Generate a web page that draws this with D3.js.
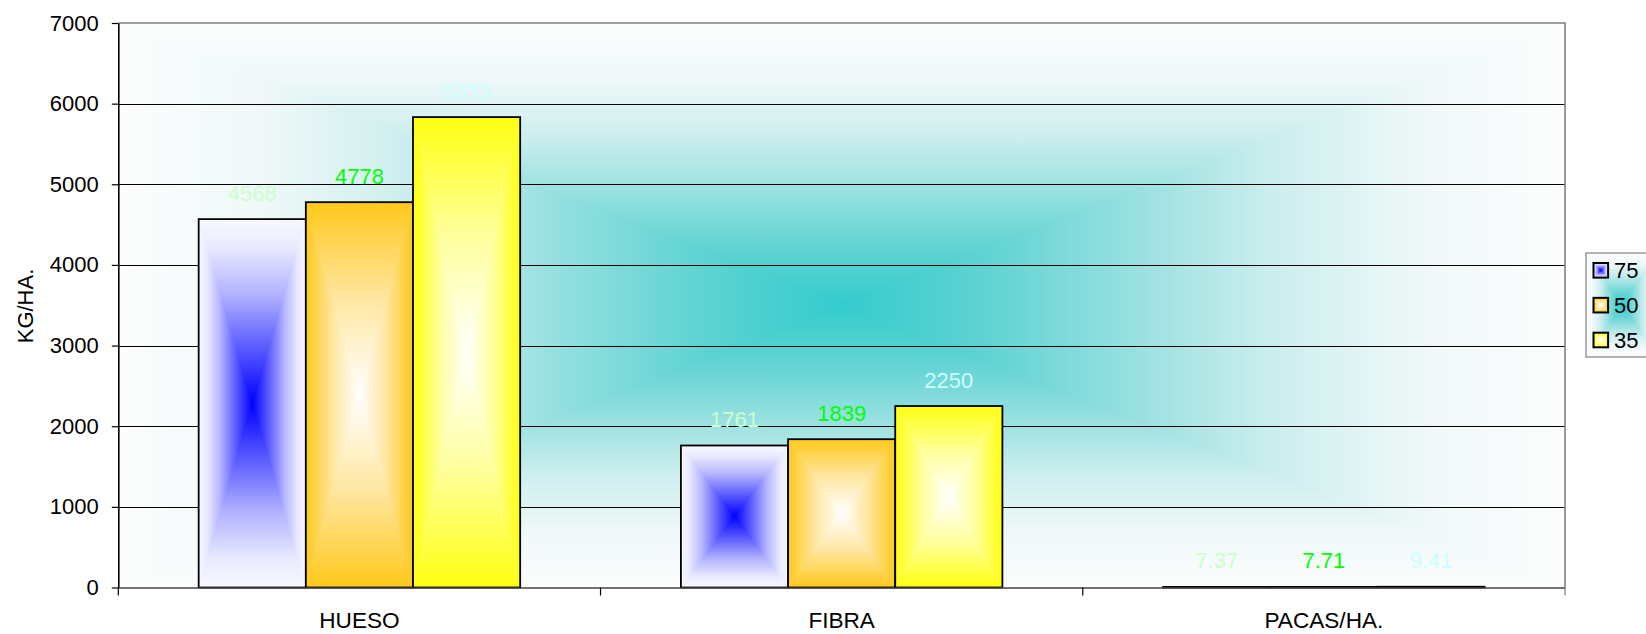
<!DOCTYPE html>
<html><head><meta charset="utf-8">
<script src="https://cdn.jsdelivr.net/npm/d3@7"></script>
<style>html,body{margin:0;padding:0;background:#fff;overflow:hidden}</style>
</head><body>
<svg id="c" width="1646" height="634"></svg>
<script>
// ---- data ----
const categories = ["HUESO", "FIBRA", "PACAS/HA."];
const seriesNames = ["75", "50", "35"];
const values75 = [4568, 1761, 7.37];
const values50 = [4778, 1839, 7.71];
const values35 = [5833, 2250, 9.41];
const yTicks = [0, 1000, 2000, 3000, 4000, 5000, 6000, 7000];
const yTitle = "KG/HA.";

const seriesValues = [values75, values50, values35];
const seriesScheme = ["blue", "orange", "yellow"];
const labelColors = ["#ccffcc", "#00ff00", "#ccffff"];

// ---- layout ----
const M = {left: 118.3, right: 1565, top: 23, bottom: 587.5};
const FONT = '"Liberation Sans", Arial, Helvetica, sans-serif';
const FS = 22;
const FSCAT = 22.6;

const svg = d3.select("#c");
svg.append("rect").attr("width", 1646).attr("height", 634).attr("fill", "#fff");
const defs = svg.append("defs");

const schemes = {
  teal: [[0, "#33cccc"], [0.2, "#60d3d3"], [0.4, "#97e0e0"], [0.6, "#cdeeee"], [0.8, "#eff8f8"], [1, "#fcfdfd"]],
  blue: [[0, "#0000ff"], [0.3, "#5a5aff"], [0.6, "#b4b4ff"], [0.85, "#eaeaff"], [1, "#f8f8ff"]],
  orange: [[0, "#ffffff"], [0.5, "#ffe6a0"], [1, "#ffc81a"]],
  yellow: [[0, "#ffffff"], [0.5, "#ffff9c"], [1, "#ffff10"]]
};

function makeGrads(name, stops) {
  const h = defs.append("linearGradient").attr("id", name + "-h")
    .attr("x1", 0).attr("x2", 1).attr("y1", 0).attr("y2", 0);
  const hs = [];
  stops.forEach(([t, c]) => { hs.push([0.5 - 0.5 * t, c]); if (t > 0) hs.push([0.5 + 0.5 * t, c]); });
  hs.sort((a, b) => a[0] - b[0]);
  hs.forEach(([o, c]) => h.append("stop").attr("offset", o).attr("stop-color", c));
  const rev = stops.slice().reverse();
  const tg = defs.append("linearGradient").attr("id", name + "-t")
    .attr("x1", 0).attr("x2", 0).attr("y1", 0).attr("y2", 1);
  rev.forEach(([t, c]) => tg.append("stop").attr("offset", 1 - t).attr("stop-color", c));
  const bg = defs.append("linearGradient").attr("id", name + "-b")
    .attr("x1", 0).attr("x2", 0).attr("y1", 1).attr("y2", 0);
  rev.forEach(([t, c]) => bg.append("stop").attr("offset", 1 - t).attr("stop-color", c));
}
Object.entries(schemes).forEach(([k, s]) => makeGrads(k, s));

function centerFill(g, x, y, w, h, name) {
  g.append("rect").attr("x", x).attr("y", y).attr("width", w).attr("height", h)
    .attr("fill", `url(#${name}-h)`);
  if (h < 2) return;
  const cx = x + w / 2, cy = y + h / 2;
  g.append("path").attr("d", `M${x},${y}L${x + w},${y}L${cx},${cy}Z`).attr("fill", `url(#${name}-t)`);
  g.append("path").attr("d", `M${x},${y + h}L${x + w},${y + h}L${cx},${cy}Z`).attr("fill", `url(#${name}-b)`);
}

// ---- scales ----
const x = d3.scaleBand().domain(categories).range([M.left, M.right]).paddingInner(0).paddingOuter(0);
const bw = x.bandwidth() / 4.5;
const xs = d3.scaleBand().domain(seriesNames).range([0.75 * bw, 3.75 * bw]).padding(0);
const y = d3.scaleLinear().domain([0, 7000]).range([M.bottom, M.top]);

// ---- plot background ----
const bgG = svg.append("g");
centerFill(bgG, M.left, M.top, M.right - M.left, M.bottom - M.top, "teal");

// gridlines
svg.append("g").selectAll("line").data(yTicks.filter(t => t > 0 && t < 7000)).join("line")
  .attr("x1", M.left).attr("x2", M.right)
  .attr("y1", d => Math.round(y(d)) + 0.5).attr("y2", d => Math.round(y(d)) + 0.5)
  .attr("stroke", "#000").attr("stroke-width", 1);

// top & right border
svg.append("path")
  .attr("d", `M${M.left},${y(7000)}H${M.right}V${M.bottom}`)
  .attr("fill", "none").attr("stroke", "#808080").attr("stroke-width", 1.6);

// ---- bars ----
const barsG = svg.append("g");
seriesNames.forEach((s, si) => {
  const data = categories.map((c, ci) => ({c, v: seriesValues[si][ci]}));
  const g = barsG.append("g");
  g.selectAll("g.bar").data(data).join("g").attr("class", "bar").each(function (d) {
    const bx = x(d.c) + xs(s), by = y(d.v), bh = y(0) - y(d.v);
    centerFill(d3.select(this), bx, by, xs.bandwidth(), bh, seriesScheme[si]);
  });
  g.selectAll("rect.outline").data(data).join("rect").attr("class", "outline")
    .attr("x", d => x(d.c) + xs(s)).attr("y", d => y(d.v))
    .attr("width", xs.bandwidth()).attr("height", d => y(0) - y(d.v))
    .attr("fill", "none").attr("stroke", "#000").attr("stroke-width", 1.8);
  g.selectAll("text").data(data).join("text")
    .attr("x", d => x(d.c) + xs(s) + xs.bandwidth() / 2)
    .attr("y", d => y(d.v) - 18.5)
    .attr("text-anchor", "middle")
    .attr("font-family", FONT).attr("font-size", FS)
    .attr("fill", labelColors[si])
    .text(d => String(d.v));
});

// ---- axes ----
const yAxis = svg.append("g").attr("transform", `translate(${M.left},0)`)
  .call(d3.axisLeft(y).tickValues(yTicks).tickFormat(d3.format("d")).tickSize(6.5).tickSizeOuter(0).tickPadding(13));
yAxis.select(".domain").attr("stroke", "#000").attr("stroke-width", 1.6);
yAxis.selectAll(".tick line").attr("stroke", "#000").attr("stroke-width", 1.2);
yAxis.selectAll("text").attr("font-family", FONT).attr("font-size", FS).attr("fill", "#000");

const xAxis = svg.append("g").attr("transform", `translate(0,${M.bottom})`)
  .call(d3.axisBottom(x).tickSize(0).tickPadding(24.5));
xAxis.select(".domain").attr("stroke", "#444").attr("stroke-width", 1.6);
xAxis.selectAll("text").attr("font-family", FONT).attr("font-size", FSCAT).attr("fill", "#000");

const bounds = categories.map(c => x(c)).concat([x(categories[categories.length - 1]) + x.bandwidth()]);
svg.append("g").selectAll("line").data(bounds).join("line")
  .attr("x1", d => d).attr("x2", d => d)
  .attr("y1", M.bottom).attr("y2", M.bottom + 8)
  .attr("stroke", (d, i) => i === bounds.length - 1 ? "#808080" : "#000").attr("stroke-width", 1.2);

// y title
svg.append("text").attr("transform", "translate(33,306) rotate(-90)")
  .attr("text-anchor", "middle").attr("font-family", FONT).attr("font-size", FS)
  .attr("fill", "#000").text(yTitle);

// ---- legend ----
const leg = svg.append("g");
const LX = 1586, LY = 253, LW = 72, LH = 104;
centerFill(leg, LX, LY, LW, LH, "teal");
leg.append("rect").attr("x", LX).attr("y", LY).attr("width", LW).attr("height", LH)
  .attr("fill", "none").attr("stroke", "#808080").attr("stroke-width", 1.2);
const legY = d3.scalePoint().domain(seriesNames).range([270.3, 340]);
seriesNames.forEach((s, si) => {
  const cy = legY(s);
  centerFill(leg, 1593.5, cy - 7.3, 14.6, 14.6, seriesScheme[si]);
  leg.append("rect").attr("x", 1593.5).attr("y", cy - 7.3).attr("width", 14.6).attr("height", 14.6)
    .attr("fill", "none").attr("stroke", "#000").attr("stroke-width", 2);
  leg.append("text").attr("x", 1614).attr("y", cy).attr("dy", "0.35em")
    .attr("font-family", FONT).attr("font-size", FS).attr("fill", "#000").text(s);
});
</script>
</body></html>
